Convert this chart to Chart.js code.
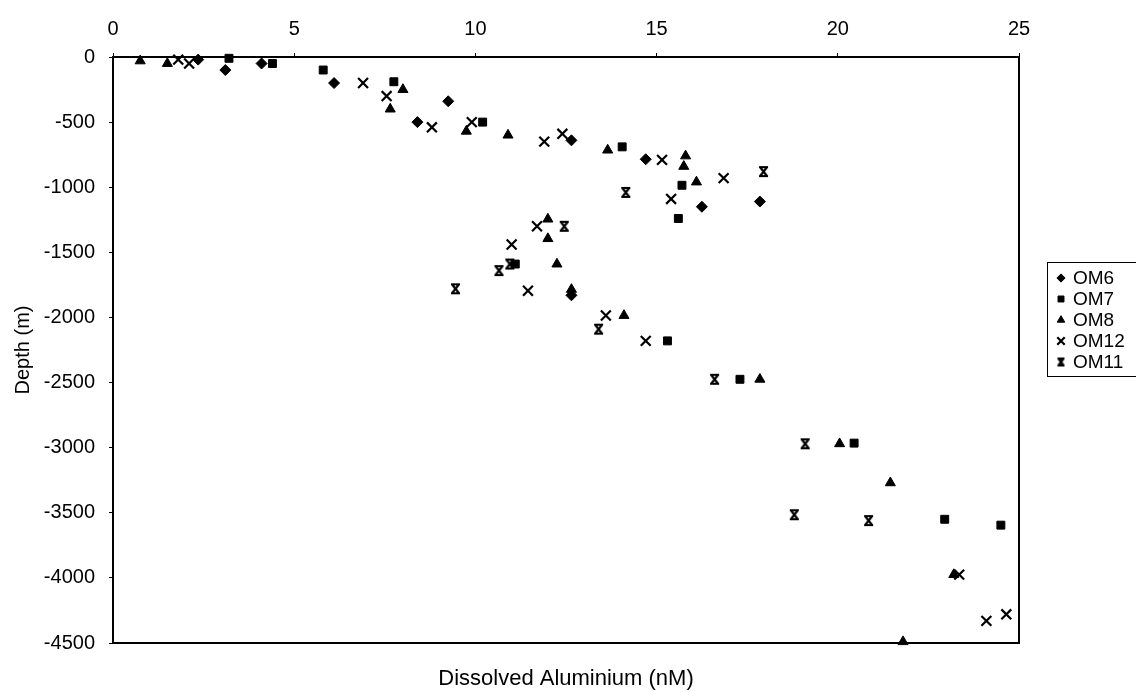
<!DOCTYPE html>
<html>
<head>
<meta charset="utf-8">
<title>Dissolved Aluminium vs Depth</title>
<script src="https://cdn.jsdelivr.net/npm/chart.js@4.4.1/dist/chart.umd.min.js"></script>
<style>
  html, body { margin: 0; padding: 0; background: #fff; }
  #wrap { position: relative; width: 1136px; height: 692px; overflow: hidden; }
  #legend {
    position: absolute; left: 1047px; top: 262px; width: 120px;
    border: 1px solid #000; background: #fff;
    padding: 4px 0 4px 6px;
    font: 19px "Liberation Sans", Arial, sans-serif; color: #000;
  }
  .item { display: flex; align-items: center; height: 21px; }
  .item canvas { margin-right: 5px; }
</style>
</head>
<body>
<div id="wrap">
  <canvas id="chart" width="1136" height="692"></canvas>
  <div id="legend"></div>
</div>
<script>
// ── Data (dissolved Al in nM, depth in m) ────────────────────────────────────
const OM6_AL    = [2.35, 3.1, 4.1, 6.1, 9.25, 8.4, 12.65, 14.7, 16.25, 17.85, 12.65];
const OM6_DEPTH = [-20, -100, -50, -200, -340, -500, -640, -785, -1150, -1110, -1830];

const OM7_AL    = [3.2, 4.4, 5.8, 7.75, 10.2, 14.05, 15.7, 15.6, 11.1, 15.3, 17.3, 20.45, 22.95, 24.5];
const OM7_DEPTH = [-10, -50, -100, -190, -500, -690, -985, -1240, -1590, -2180, -2475, -2965, -3550, -3595];

const OM8_AL    = [0.75, 1.5, 8.0, 7.65, 9.75, 10.9, 13.65, 15.8, 15.75, 16.1, 12.0, 12.0, 12.25, 12.65, 14.1, 17.85, 20.05, 21.45, 23.2, 21.8];
const OM8_DEPTH = [-30, -50, -250, -400, -570, -600, -715, -760, -840, -960, -1245, -1395, -1590, -1785, -1985, -2475, -2970, -3270, -3975, -4490];

const OM12_AL    = [1.8, 2.1, 6.9, 7.55, 8.8, 9.9, 11.9, 12.4, 15.15, 16.85, 15.4, 11.7, 11.0, 11.45, 13.6, 14.7, 23.35, 24.1, 24.65];
const OM12_DEPTH = [-20, -50, -200, -300, -540, -500, -650, -590, -790, -930, -1090, -1300, -1440, -1795, -1985, -2180, -3975, -4330, -4280];

const OM11_AL    = [17.95, 14.15, 12.45, 10.95, 10.65, 9.45, 13.4, 16.6, 19.1, 18.8, 20.85];
const OM11_DEPTH = [-880, -1040, -1300, -1590, -1640, -1780, -2090, -2475, -2970, -3515, -3560];

const X_TICKS = [0, 5, 10, 15, 20, 25];
const Y_TICKS = [0, -500, -1000, -1500, -2000, -2500, -3000, -3500, -4000, -4500];

const FONT = '"Liberation Sans", Arial, sans-serif';

const pts = (xs, ys) => xs.map((x, i) => ({ x, y: ys[i] }));

// ── OM11 marker: a cross closed by bars top and bottom ──────────────────────
function om11Marker(size) {
  const c = document.createElement('canvas');
  c.width = size; c.height = size;
  const g = c.getContext('2d');
  const a = 2, b = size - 2;
  g.strokeStyle = '#000';
  g.lineWidth = 2.2;
  g.beginPath();
  g.moveTo(a + 1, a); g.lineTo(b - 1, b);
  g.moveTo(b - 1, a); g.lineTo(a + 1, b);
  g.moveTo(a, a); g.lineTo(b, a);
  g.moveTo(a, b); g.lineTo(b, b);
  g.stroke();
  return c;
}
const OM11_IMG = om11Marker(13);
const OM11_LEGEND = om11Marker(11);

const SERIES = [
  { label: 'OM6',  data: pts(OM6_AL, OM6_DEPTH),   pointStyle: 'rectRot',  pointRadius: 5.5, borderWidth: 1 },
  { label: 'OM7',  data: pts(OM7_AL, OM7_DEPTH),   pointStyle: 'rect',     pointRadius: 5.6, borderWidth: 1 },
  { label: 'OM8',  data: pts(OM8_AL, OM8_DEPTH),   pointStyle: 'triangle', pointRadius: 5.8, borderWidth: 1 },
  { label: 'OM12', data: pts(OM12_AL, OM12_DEPTH), pointStyle: 'crossRot', pointRadius: 7,   borderWidth: 2.2 },
  { label: 'OM11', data: pts(OM11_AL, OM11_DEPTH), pointStyle: OM11_IMG,   pointRadius: 6.5, borderWidth: 1 },
];

// ── Frame round the plot area ────────────────────────────────────────────────
const framePlugin = {
  id: 'frame',
  beforeDatasetsDraw(chart) {
    const { ctx, chartArea: a } = chart;
    ctx.save();
    ctx.strokeStyle = '#000';
    ctx.lineWidth = 2;
    ctx.strokeRect(a.left, a.top, a.right - a.left, a.bottom - a.top);
    ctx.restore();
  },
};

const chart = new Chart(document.getElementById('chart'), {
  type: 'scatter',
  data: {
    datasets: SERIES.map(s => ({
      label: s.label,
      data: s.data,
      pointStyle: s.pointStyle,
      pointRadius: s.pointRadius,
      pointHoverRadius: s.pointRadius,
      pointBorderWidth: s.borderWidth,
      backgroundColor: '#000',
      borderColor: '#000',
      clip: false,
    })),
  },
  options: {
    responsive: false,
    animation: false,
    devicePixelRatio: 1,
    layout: { padding: { left: 0, right: 117, top: 0, bottom: 0 } },
    plugins: { legend: { display: false }, tooltip: { enabled: false } },
    scales: {
      x: {
        type: 'linear', position: 'top', min: 0, max: 25,
        afterBuildTicks: s => { s.ticks = X_TICKS.map(v => ({ value: v })); },
        ticks: { color: '#000', font: { family: FONT, size: 20 }, padding: 12 },
        grid: { drawOnChartArea: false, color: '#000', tickLength: 4 },
        border: { display: false },
        afterFit: s => { s.height = 57; },
      },
      x2: {
        type: 'linear', position: 'bottom', min: 0, max: 25,
        ticks: { display: false },
        grid: { display: false },
        border: { display: false },
        title: { display: true, text: 'Dissolved Aluminium (nM)', color: '#000',
                 font: { family: FONT, size: 22 }, padding: { top: 4, bottom: 0 } },
        afterFit: s => { s.height = 49; },
      },
      y: {
        type: 'linear', min: -4500, max: 0,
        afterBuildTicks: s => { s.ticks = Y_TICKS.map(v => ({ value: v })); },
        ticks: { color: '#000', font: { family: FONT, size: 20 }, padding: 14, callback: v => String(v) },
        grid: { drawOnChartArea: false, color: '#000', tickLength: 4 },
        border: { display: false },
        title: { display: true, text: 'Depth (m)', color: '#000',
                 font: { family: FONT, size: 20 }, padding: { top: 11, bottom: 0 } },
        afterFit: s => { s.width = 113; },
      },
    },
  },
  plugins: [framePlugin],
});

// ── Legend (HTML, markers drawn with Chart.js helper) ───────────────────────
const legend = document.getElementById('legend');
SERIES.forEach(s => {
  const row = document.createElement('div');
  row.className = 'item';
  const c = document.createElement('canvas');
  c.width = 14; c.height = 14;
  const g = c.getContext('2d');
  g.fillStyle = '#000'; g.strokeStyle = '#000'; g.lineWidth = s.borderWidth;
  const style = s.pointStyle === OM11_IMG ? OM11_LEGEND : s.pointStyle;
  Chart.helpers.drawPoint(g, { pointStyle: style, radius: s.pointRadius * 0.75, borderWidth: s.borderWidth, rotation: 0 }, 7, 7);
  row.appendChild(c);
  const t = document.createElement('span');
  t.textContent = s.label;
  row.appendChild(t);
  legend.appendChild(row);
});
</script>
</body>
</html>
